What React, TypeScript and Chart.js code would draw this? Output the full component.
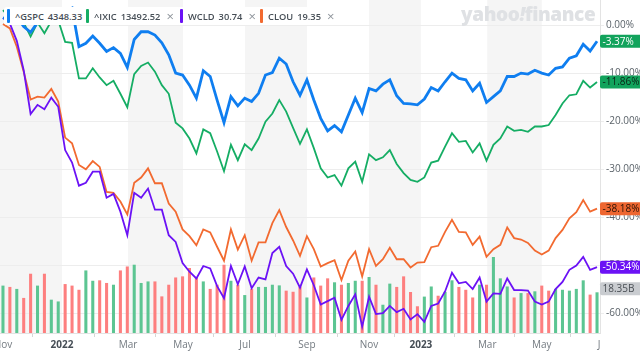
import React, { useEffect, useRef } from "react";
import { Chart, registerables } from "chart.js";

Chart.register(...registerables);

const FONT = "'Open Sans', 'Liberation Sans', Arial, sans-serif";

// ---- data ----
const tickers = ["^GSPC", "^IXIC", "WCLD", "CLOU"];
const lastPrices = ["4348.33", "13492.52", "30.74", "19.35"];
const removable = [false, true, true, true];

// weekly % change vs. comparison base (week index 0 = early Nov 2021)
const gspcPct = [1.5, 1.0, 1.8, -0.3, -1.5, 0.5, 1.5, 1.0, 2.0, 2.8, 3.5, -4.5, -3.8, -2.3, -3.8, -5.5, -4.7, -5.9, -8.8, -3.0, -1.4, -1.4, -2.1, -3.7, -6.2, -10.0, -10.4, -12.5, -15.2, -9.5, -10.7, -15.6, -20.3, -14.9, -16.8, -15.2, -15.9, -14.2, -10.4, -9.9, -6.9, -8.1, -11.8, -14.6, -11.4, -15.6, -19.4, -22.0, -20.9, -22.2, -18.7, -15.2, -18.2, -13.2, -13.7, -12.3, -11.4, -14.7, -16.3, -16.4, -16.6, -15.4, -13.0, -13.7, -11.8, -10.0, -11.1, -11.4, -13.7, -12.1, -16.1, -14.9, -13.7, -10.7, -10.7, -10.0, -10.2, -9.4, -10.0, -10.4, -9.0, -8.7, -6.9, -6.4, -4.0, -5.4, -3.37];
const ixicPct = [3.1, 1.5, 1.0, 0.5, -2.4, 0.5, -1.7, 0.8, 1.0, -3.5, -3.7, -11.1, -11.1, -9.0, -10.9, -12.5, -11.6, -14.3, -17.1, -10.2, -8.5, -7.8, -9.7, -12.5, -14.3, -20.3, -21.5, -23.6, -26.7, -21.7, -22.5, -26.3, -30.4, -24.9, -28.1, -24.8, -26.0, -23.6, -20.1, -18.4, -15.6, -18.0, -21.4, -24.7, -21.7, -25.6, -29.8, -31.7, -31.2, -33.4, -29.8, -28.4, -32.6, -26.9, -28.1, -27.5, -26.0, -28.9, -30.8, -32.2, -32.6, -31.7, -28.6, -28.2, -25.3, -22.5, -24.3, -24.1, -26.5, -24.6, -28.2, -24.9, -23.6, -21.1, -22.0, -21.8, -22.2, -21.1, -21.1, -20.8, -18.7, -16.3, -14.6, -14.4, -11.6, -13.0, -11.86];
const wcldPct = [1.5, 0.3, -3.3, -9.4, -18.5, -16.6, -17.5, -15.1, -17.0, -26.0, -28.6, -33.4, -32.8, -30.5, -30.5, -35.9, -35.1, -38.8, -43.7, -34.9, -35.9, -34.0, -38.4, -38.4, -43.7, -45.1, -49.5, -51.3, -52.7, -50.1, -50.6, -54.3, -56.8, -50.1, -53.9, -50.2, -54.7, -52.5, -52.9, -47.4, -46.1, -50.1, -51.7, -54.6, -50.8, -54.1, -58.1, -57.4, -56.7, -61.3, -58.4, -56.0, -62.7, -56.5, -60.1, -59.9, -58.4, -59.7, -59.0, -61.2, -60.1, -61.7, -58.4, -57.9, -55.4, -51.5, -53.7, -53.4, -54.9, -52.5, -57.5, -55.8, -55.9, -52.7, -55.1, -55.1, -55.2, -57.5, -58.1, -57.5, -54.9, -53.4, -50.9, -50.0, -48.2, -50.9, -50.34];
const clouPct = [0.2, -0.7, -4.5, -9.7, -15.5, -14.9, -15.1, -13.3, -15.9, -23.4, -24.6, -29.1, -30.0, -28.3, -29.5, -34.7, -34.9, -36.7, -39.4, -32.8, -31.7, -29.8, -32.9, -32.9, -37.1, -38.8, -42.5, -43.9, -45.8, -42.5, -43.1, -46.1, -49.0, -42.5, -46.7, -43.7, -49.0, -45.2, -45.2, -41.2, -38.5, -42.0, -44.8, -48.0, -43.9, -46.6, -50.2, -49.5, -48.9, -53.0, -49.0, -47.1, -52.3, -46.6, -50.1, -48.7, -46.3, -48.7, -48.7, -50.4, -49.4, -49.3, -46.2, -45.9, -43.0, -40.5, -43.0, -43.1, -45.7, -44.0, -48.2, -46.6, -45.7, -42.1, -44.3, -44.6, -45.3, -46.9, -47.7, -46.9, -44.3, -42.6, -40.2, -38.9, -36.4, -38.8, -38.18];

// weekly ^GSPC volume, billions; 1 = up week, 0 = down week
const volumeB = [21.4, 20.8, 19.9, 15.8, 26.8, 21.4, 26.8, 15.0, 14.2, 22.1, 21.4, 19.5, 28.3, 23.6, 23.8, 22.6, 21.8, 28.3, 30.1, 30.9, 22.6, 23.3, 23.3, 16.5, 21.8, 25.1, 25.6, 29.4, 25.0, 23.3, 19.9, 21.8, 30.9, 23.6, 21.8, 17.1, 19.9, 20.8, 20.8, 21.8, 21.5, 19.1, 18.6, 20.9, 16.0, 25.1, 21.4, 24.7, 22.9, 21.8, 22.6, 23.6, 23.6, 25.3, 21.8, 12.7, 22.3, 20.8, 25.6, 18.5, 12.0, 16.4, 21.0, 16.8, 18.6, 23.8, 20.8, 19.5, 16.0, 21.8, 21.8, 34.4, 24.7, 21.0, 16.0, 18.0, 18.0, 18.8, 21.4, 19.1, 19.9, 19.5, 19.1, 19.9, 23.8, 17.3, 18.35];
const volumeUp = [1, 0, 1, 0, 0, 1, 0, 1, 1, 0, 0, 0, 1, 1, 0, 0, 1, 0, 0, 1, 1, 1, 0, 0, 0, 0, 0, 0, 0, 1, 0, 0, 0, 1, 0, 1, 0, 1, 1, 1, 1, 0, 0, 0, 1, 0, 0, 0, 1, 0, 1, 1, 0, 1, 0, 1, 1, 0, 0, 0, 0, 1, 1, 0, 1, 1, 0, 0, 0, 1, 0, 1, 1, 1, 0, 1, 0, 1, 0, 0, 1, 1, 1, 1, 1, 0, 1];

// x-axis month ticks, in week-index units
const monthTickPos = [0, 8.54, 18.1, 26.06, 35.04, 44.0, 53.0, 60.5, 70.1, 78.0, 86.3];
const monthTickLabels = ["Nov", "2022", "Mar", "May", "Jul", "Sep", "Nov", "2023", "Mar", "May", "J"];
const yearTickIdx = [1, 7];
const pctTicks = [0, -10, -20, -30, -40, -50, -60];

// ---- styling ----
const lineColors = ["#0f7ef0", "#15ad64", "#6b12f5", "#f26a30"];
const tagBg = ["#12a35c", "#12a35c", "#6b12f5", "#ee6630"];
const tagFg = ["#ffffff", "#0b2416", "#ffffff", "#2a1206"];
const chipLeft = [4, 83, 177, 257];

const bandsPlugin = {
  id: "bands",
  beforeDraw(chart: any) {
    const { ctx, chartArea, scales } = chart;
    const x = scales.x;
    ctx.save();
    ctx.fillStyle = "#f5f5f5";
    for (let k = 0; k + 1 < monthTickPos.length; k += 2) {
      const x0 = k === 0 ? chartArea.left : x.getPixelForValue(monthTickPos[k]);
      const x1 = x.getPixelForValue(monthTickPos[k + 1]);
      ctx.fillRect(x0, chartArea.top, x1 - x0, chartArea.bottom - chartArea.top);
    }
    ctx.restore();
  },
};

const tagsPlugin = {
  id: "tags",
  afterDraw(chart: any) {
    const { ctx, chartArea, scales, width } = chart;
    const series = [gspcPct, ixicPct, wcldPct, clouPct];
    const items: any[] = series.map((s, i) => {
      const v = s[s.length - 1];
      return { py: scales.y.getPixelForValue(v), text: v.toFixed(2) + "%", bg: tagBg[i], fg: tagFg[i] };
    });
    const lv = volumeB[volumeB.length - 1];
    items.push({ py: scales.yv.getPixelForValue(lv) - 4, text: lv.toFixed(2) + "B", bg: "#c9ccd0", fg: "#4a4f55" });
    ctx.save();
    ctx.font = `10px ${FONT}`;
    ctx.textBaseline = "middle";
    ctx.textAlign = "left";
    for (const it of items) {
      const x0 = chartArea.right;
      ctx.fillStyle = it.bg;
      ctx.beginPath();
      (ctx as any).roundRect(x0, it.py - 6.5, width - x0 + 4, 13, 2);
      ctx.fill();
      ctx.fillStyle = it.fg;
      ctx.fillText(it.text, x0 + 2.5, it.py + 0.5);
    }
    ctx.restore();
  },
};

export default function App() {
  const canvasRef = useRef<HTMLCanvasElement | null>(null);

  useEffect(() => {
    document.body.style.margin = "0";
    const canvas = canvasRef.current;
    if (!canvas) return;
    const pts = (arr: number[]) => arr.map((v, i) => ({ x: i, y: v }));
    const mkLine = (data: number[], i: number, w: number, order: number) => ({
      type: "line" as const,
      label: tickers[i],
      data: pts(data),
      borderColor: lineColors[i],
      borderWidth: w,
      pointRadius: 0,
      tension: 0,
      fill: false,
      yAxisID: "y",
      order,
    });
    const chart = new Chart(canvas, {
      type: "line",
      data: {
        datasets: [
          mkLine(gspcPct, 0, 2.8, 0),
          mkLine(ixicPct, 1, 1.8, 1),
          mkLine(wcldPct, 2, 1.8, 2),
          mkLine(clouPct, 3, 1.8, 3),
          {
            type: "bar" as const,
            label: "Volume",
            data: pts(volumeB),
            backgroundColor: volumeUp.map((u) => (u ? "#5cc592" : "#fd7f7f")),
            barThickness: 2.4,
            yAxisID: "yv",
            order: 10,
          } as any,
        ],
      },
      options: {
        responsive: false,
        animation: false,
        devicePixelRatio: 1,
        layout: { padding: 0 },
        plugins: { legend: { display: false }, tooltip: { enabled: false } },
        scales: {
          x: {
            type: "linear",
            min: -0.43,
            max: 86.43,
            offset: false,
            grid: { display: true, drawOnChartArea: false, drawTicks: true, tickLength: 4, color: "#d6d6d6" },
            border: { display: true, color: "#e3e3e3" },
            ticks: {
              autoSkip: false,
              maxRotation: 0,
              padding: 2,
              callback: (_v: any, i: number) => monthTickLabels[i],
              color: (c: any) => (yearTickIdx.includes(c.index) ? "#464e56" : "#737a80"),
              font: (c: any) => ({ size: 10, family: FONT, weight: yearTickIdx.includes(c.index) ? "bold" : "normal" }),
            },
            afterBuildTicks: (s: any) => {
              s.ticks = monthTickPos.map((v) => ({ value: v }));
            },
            afterFit: (s: any) => {
              s.paddingLeft = 0;
              s.paddingRight = 0;
              s.height = 27;
            },
          } as any,
          y: {
            type: "linear",
            position: "right",
            min: -64.03,
            max: 5.2,
            grid: { color: "#ededed", tickLength: 4 },
            border: { display: true, color: "#e3e3e3" },
            ticks: {
              padding: 2,
              color: "#5b636a",
              font: { size: 10, family: FONT },
              callback: (v: any) => Number(v).toFixed(2) + "%",
            },
            afterBuildTicks: (s: any) => {
              s.ticks = pctTicks.map((v) => ({ value: v }));
            },
            afterFit: (s: any) => {
              s.width = 40;
              s.paddingTop = 0;
              s.paddingBottom = 0;
            },
          } as any,
          yv: { type: "linear", display: false, min: 0, max: 151.4 },
        },
      } as any,
      plugins: [bandsPlugin, tagsPlugin],
    });
    return () => chart.destroy();
  }, []);

  return (
    <div style={{ position: "relative", width: 640, height: 360, overflow: "hidden", background: "#fff" }}>
      <canvas ref={canvasRef} width={640} height={360} style={{ position: "absolute", left: 0, top: 0 }} />
      <div
        style={{
          position: "absolute",
          left: 461,
          top: 1,
          font: `800 19px ${FONT}`,
          color: "#dfe1e4",
          letterSpacing: "-0.4px",
          whiteSpace: "nowrap",
        }}
      >
        yahoo<span style={{ fontStyle: "italic" }}>!</span>finance
      </div>
      {tickers.map((t, i) => (
        <div
          key={t}
          style={{
            position: "absolute",
            left: chipLeft[i],
            top: 7,
            height: 18,
            display: "flex",
            alignItems: "center",
            background: "#fff",
            padding: "0 6px 0 3px",
            borderRadius: 3,
            font: `600 9.3px ${FONT}`,
            color: "#464e56",
            whiteSpace: "nowrap",
          }}
        >
          <span style={{ display: "inline-block", width: 3, height: 14, background: lineColors[i], borderRadius: 1, marginRight: 5 }} />
          <span style={{ marginRight: 4 }}>{t}</span>
          <span>{lastPrices[i]}</span>
          {removable[i] && <span style={{ marginLeft: 6, color: "#8d939a", fontSize: 13, fontWeight: 400 }}>×</span>}
        </div>
      ))}
    </div>
  );
}
